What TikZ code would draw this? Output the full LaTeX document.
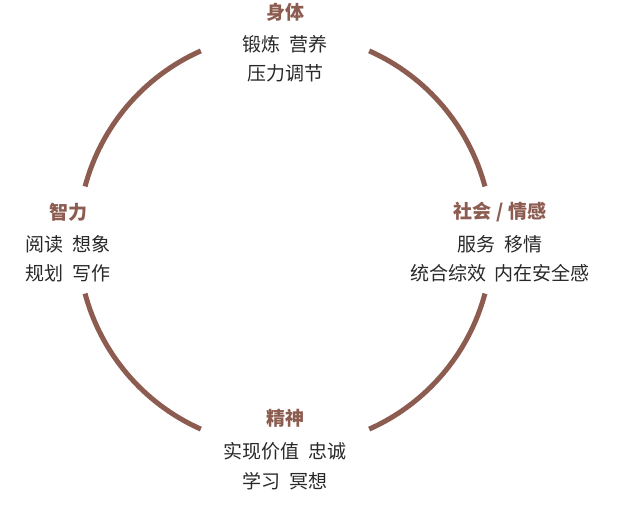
\documentclass[tikz,border=0pt]{standalone}
\usepackage{fontspec}
\setmainfont{Noto Sans CJK SC}
\definecolor{arcbrown}{RGB}{140,92,80}
\definecolor{txtgray}{RGB}{40,40,40}
\tikzset{
  ring/.style={draw=arcbrown, line width=5},
  heading/.style={text=arcbrown, font=\fontsize{19}{22}\selectfont\bfseries, inner sep=0pt},
  item/.style={text=txtgray, font=\fontsize{19}{22}\selectfont, inner sep=0pt}
}
\begin{document}
\begin{tikzpicture}[x=1pt,y=1pt,yscale=-1]
\useasboundingbox (0,0) rectangle (620,507);
\coordinate (c) at (285,240);

% ring
\draw[ring] (c) ++(-15:207) arc[start angle=-15, end angle=-66, radius=207];
\draw[ring] (c) ++(-114:207) arc[start angle=-114, end angle=-165, radius=207];
\draw[ring] (c) ++(-195:207) arc[start angle=-195, end angle=-246, radius=207];
\draw[ring] (c) ++(-294:207) arc[start angle=-294, end angle=-345, radius=207];

% top
\node[heading] (body) at (285,12) {身体};
\node[item] (body1) at (285,44) {锻炼\ \ 营养};
\node[item] (body2) at (285,73) {压力调节};
% left
\node[heading] (mind) at (68,212) {智力};
\node[item] (mind1) at (68,244) {阅读\ \ 想象};
\node[item] (mind2) at (68,273) {规划\ \ 写作};
% right
\node[heading] (social) at (500,212) {社会 / 情感};
\node[item] (social1) at (500,244) {服务\ \ 移情};
\node[item] (social2) at (500,273) {统合综效\ \ 内在安全感};
% bottom
\node[heading] (spirit) at (285,418) {精神};
\node[item] (spirit1) at (285,451) {实现价值\ \ 忠诚};
\node[item] (spirit2) at (285,481) {学习\ \ 冥想};
\end{tikzpicture}
\end{document}
